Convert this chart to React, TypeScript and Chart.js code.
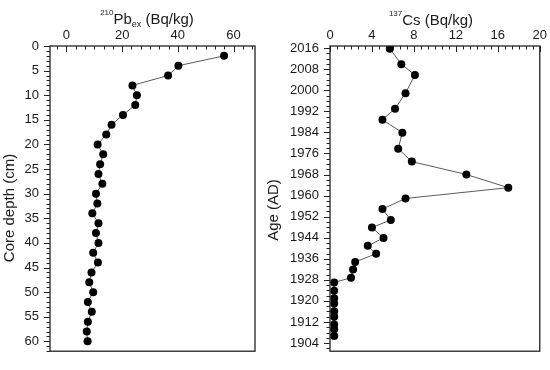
import React, { useEffect, useRef } from 'react';
import { Chart, registerables } from 'chart.js';

Chart.register(...registerables);

// ---------- data ----------
const pbDepth = [2, 4, 6, 8, 10, 12, 14, 16, 18, 20, 22, 24, 26, 28, 30, 32, 34, 36, 38, 40, 42, 44, 46, 48, 50, 52, 54, 56, 58, 60];
const pbValues = [56.6, 40.2, 36.5, 23.7, 25.3, 24.7, 20.3, 16.2, 14.3, 11.2, 13.2, 12.1, 11.5, 12.9, 10.6, 11.1, 9.3, 11.5, 10.6, 11.5, 9.6, 11.3, 9.0, 8.2, 9.6, 7.7, 9.1, 7.7, 7.3, 7.6];

const csYears = [2015.8, 2009.9, 2005.8, 1998.9, 1993.0, 1988.8, 1983.9, 1977.8, 1972.9, 1968.0, 1963.0, 1958.9, 1954.9, 1950.7, 1947.9, 1943.9, 1940.9, 1937.9, 1934.8, 1931.9, 1928.8, 1927.0, 1923.9, 1921.0, 1919.0, 1916.1, 1914.0, 1911.0, 1909.2, 1906.7];
const csValues = [5.7, 6.8, 8.1, 7.2, 6.2, 5.0, 6.9, 6.5, 7.8, 13.0, 17.0, 7.2, 5.0, 5.8, 4.0, 5.1, 3.6, 4.4, 2.4, 2.2, 2.0, 0.4, 0.4, 0.4, 0.4, 0.4, 0.4, 0.4, 0.4, 0.4];

const pbTicks = [0, 20, 40, 60];
const depthTicks = [0, 5, 10, 15, 20, 25, 30, 35, 40, 45, 50, 55, 60];
const csTicks = [0, 4, 8, 12, 16, 20];
const yearTicks = [2016, 2008, 2000, 1992, 1984, 1976, 1968, 1960, 1952, 1944, 1936, 1928, 1920, 1912, 1904];

// ---------- styling ----------
const FONT = "'Liberation Sans', Arial, sans-serif";
const TEXT = '#1a1a1a';

function stepValues(min: number, max: number, base: number, step: number) {
  const out: number[] = [];
  const k0 = Math.ceil((min - base) / step - 1e-9);
  const k1 = Math.floor((max - base) / step + 1e-9);
  for (let k = k0; k <= k1; k++) out.push(base + k * step);
  return out;
}

const decorPlugin = {
  id: 'decor',
  afterDraw(chart: any, _args: any, o: any) {
    const { ctx, chartArea: a } = chart;
    const xs = chart.scales.x;
    const ys = chart.scales.y;
    ctx.save();
    ctx.strokeStyle = '#222';
    ctx.lineWidth = 1;
    ctx.beginPath();
    for (const v of stepValues(xs.min, xs.max, 0, o.xMinorStep)) {
      const major = o.xMajor.some((m: number) => Math.abs(m - v) < 1e-6);
      const px = Math.round(xs.getPixelForValue(v)) + 0.5;
      ctx.moveTo(px, a.top);
      ctx.lineTo(px, a.top + (major ? 6 : 3.5));
    }
    for (const v of stepValues(ys.min, ys.max, o.yBase, o.yMinorStep)) {
      const major = o.yMajor.some((m: number) => Math.abs(m - v) < 1e-6);
      const py = Math.round(ys.getPixelForValue(v)) + 0.5;
      ctx.moveTo(a.left, py);
      ctx.lineTo(a.left - (major ? 6 : 3.5), py);
    }
    ctx.stroke();
    ctx.lineWidth = 1.3;
    ctx.strokeRect(a.left, a.top, a.right - a.left, a.bottom - a.top);

    // top title with super/subscripts
    ctx.fillStyle = TEXT;
    ctx.textBaseline = 'alphabetic';
    ctx.textAlign = 'left';
    let total = 0;
    const widths = o.titleParts.map((p: any) => {
      ctx.font = `${p.size}px ${FONT}`;
      const w = ctx.measureText(p.text).width;
      total += w;
      return w;
    });
    let x = o.titleX - total / 2;
    o.titleParts.forEach((p: any, i: number) => {
      ctx.font = `${p.size}px ${FONT}`;
      ctx.fillText(p.text, x, o.titleY + (p.dy || 0));
      x += widths[i];
    });

    // rotated y title
    ctx.save();
    ctx.translate(o.yTitleX, o.yTitleY);
    ctx.rotate(-Math.PI / 2);
    ctx.textAlign = 'center';
    ctx.textBaseline = 'middle';
    ctx.font = `15px ${FONT}`;
    ctx.fillText(o.yTitle, 0, 0);
    ctx.restore();

    ctx.restore();
  },
};

function fixedTicks(values: number[]) {
  return (s: any) => {
    s.ticks = values.map((v) => ({ value: v }));
  };
}

function tickFont() {
  return { family: FONT, size: 13 };
}

function makeConfig(
  xs: number[], ys: number[],
  xOpts: any, yOpts: any, padding: any, decor: any,
) {
  return {
    type: 'scatter',
    data: {
      datasets: [{
        data: xs.map((v, i) => ({ x: v, y: ys[i] })),
        showLine: true,
        borderColor: '#5a5a5a',
        borderWidth: 1,
        pointRadius: 4,
        pointBorderWidth: 0,
        pointBackgroundColor: '#000',
        pointHoverRadius: 4,
      }],
    },
    options: {
      animation: false,
      responsive: false,
      events: [],
      layout: { padding },
      plugins: { legend: { display: false }, tooltip: { enabled: false }, decor },
      scales: {
        x: {
          type: 'linear',
          position: 'top',
          min: xOpts.min,
          max: xOpts.max,
          afterBuildTicks: fixedTicks(xOpts.ticks),
          afterFit: (s: any) => { s.height = 46; },
          grid: { display: false, drawTicks: false },
          border: { display: false },
          ticks: { padding: 3, autoSkip: false, maxRotation: 0, font: tickFont(), color: TEXT, callback: (v: any) => String(v) },
        },
        y: {
          type: 'linear',
          reverse: !!yOpts.reverse,
          min: yOpts.min,
          max: yOpts.max,
          afterBuildTicks: fixedTicks(yOpts.ticks),
          afterFit: (s: any) => { s.width = yOpts.width; },
          grid: { display: false, drawTicks: false },
          border: { display: false },
          ticks: { padding: 11, autoSkip: false, font: tickFont(), color: TEXT, callback: (v: any) => String(v) },
        },
      },
    },
    plugins: [decorPlugin],
  };
}

function Panel({ left, width, config }: { left: number; width: number; config: any }) {
  const ref = useRef<HTMLCanvasElement>(null);
  useEffect(() => {
    if (!ref.current) return;
    const chart = new Chart(ref.current, config);
    return () => chart.destroy();
  }, [config]);
  return (
    <canvas
      ref={ref}
      width={width}
      height={370}
      style={{ position: 'absolute', left, top: 0, width, height: 370 }}
    />
  );
}

const leftConfig = makeConfig(
  pbValues, pbDepth,
  { min: -5.9, max: 67.7, ticks: pbTicks },
  { min: 0, max: 62, reverse: true, ticks: depthTicks, width: 50 },
  { left: 0, top: 0, right: 7, bottom: 7 },
  {
    xMajor: pbTicks, xMinorStep: 20 / 6,
    yMajor: depthTicks, yMinorStep: 1, yBase: 0,
    titleParts: [
      { text: '210', size: 8, dy: -9 },
      { text: 'Pb', size: 15 },
      { text: 'ex', size: 9, dy: 3 },
      { text: ' (Bq/kg)', size: 15 },
    ],
    titleX: 147, titleY: 24,
    yTitle: 'Core depth (cm)', yTitleX: 10, yTitleY: 208,
  },
);

const rightConfig = makeConfig(
  csValues, csYears,
  { min: 0, max: 20, ticks: csTicks },
  { min: 1900.9, max: 2016.8, ticks: yearTicks, width: 68 },
  { left: 0, top: 0, right: 8, bottom: 8 },
  {
    xMajor: csTicks, xMinorStep: 4 / 6,
    yMajor: yearTicks, yMinorStep: 2, yBase: 2016,
    titleParts: [
      { text: '137', size: 8, dy: -9 },
      { text: 'Cs (Bq/kg)', size: 15 },
    ],
    titleX: 169, titleY: 25,
    yTitle: 'Age (AD)', yTitleX: 12, yTitleY: 210,
  },
);

export default function App() {
  return (
    <div style={{ position: 'absolute', left: 0, top: 0, width: 550, height: 370, background: '#fff' }}>
      <Panel left={0} width={262} config={leftConfig} />
      <Panel left={262} width={288} config={rightConfig} />
    </div>
  );
}
